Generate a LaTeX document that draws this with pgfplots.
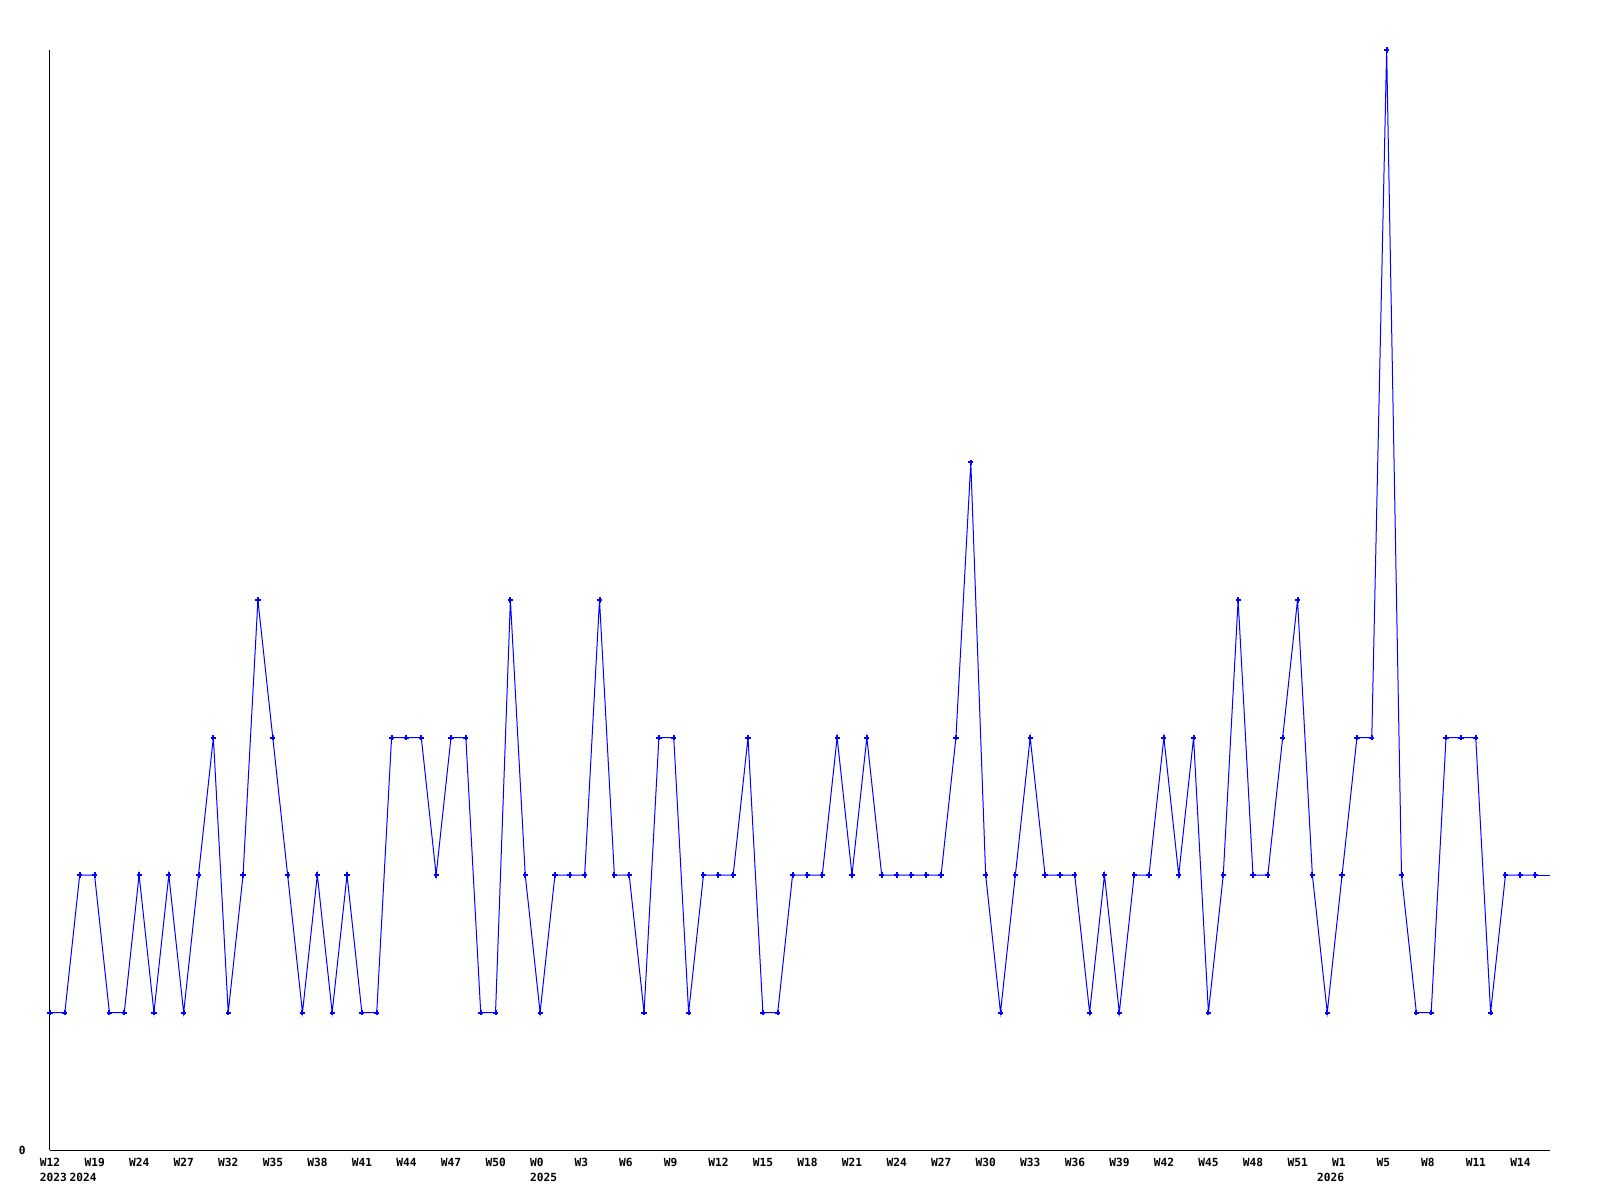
\documentclass[border=0pt]{standalone}
\usepackage{fontspec}
\setmonofont{DejaVu Sans Mono}
\usepackage{pgfplots}
\pgfplotsset{compat=1.18}
\definecolor{lineblue}{RGB}{0,0,255}
\begin{document}
\begin{tikzpicture}
\useasboundingbox (-25pt,-25pt) rectangle (775pt,575pt);
\begin{axis}[
  at={(0,0)}, anchor=south west,
  scale only axis,
  width=750pt, height=550pt,
  xmin=0, xmax=101, ymin=0, ymax=8,
  axis x line=bottom, axis y line=left,
  axis line style={-, black, line width=0.5pt},
  major tick length=0pt,
  xtick={0,3,...,99},
  xticklabels={W12,W19,W24,W27,W32,W35,W38,W41,W44,W47,W50,W0,W3,W6,W9,W12,W15,W18,W21,W24,W27,W30,W33,W36,W39,W42,W45,W48,W51,W1,W5,W8,W11,W14},
  extra x ticks={0,2,33,86},
  extra x tick labels={2023,2024,2025,2026},
  extra x tick style={major tick length=0pt, xticklabel style={yshift=-7.6pt}},
  xticklabel style={font=\ttfamily\bfseries\fontsize{5.6}{7}\selectfont, inner sep=0pt, anchor=north west, xshift=-5.2pt, yshift=-4pt},
  ytick={0}, yticklabels={0},
  yticklabel style={font=\ttfamily\bfseries\fontsize{5.6}{7}\selectfont, inner sep=0pt, anchor=east, xshift=-12pt},
  clip=false,
]
\addplot[lineblue, line width=0.5pt, mark=+, mark size=1.3pt, mark options={line width=1pt}] coordinates {
(0,1)(1,1)(2,2)(3,2)(4,1)(5,1)(6,2)(7,1)(8,2)(9,1)
(10,2)(11,3)(12,1)(13,2)(14,4)(15,3)(16,2)(17,1)(18,2)(19,1)
(20,2)(21,1)(22,1)(23,3)(24,3)(25,3)(26,2)(27,3)(28,3)(29,1)
(30,1)(31,4)(32,2)(33,1)(34,2)(35,2)(36,2)(37,4)(38,2)(39,2)
(40,1)(41,3)(42,3)(43,1)(44,2)(45,2)(46,2)(47,3)(48,1)(49,1)
(50,2)(51,2)(52,2)(53,3)(54,2)(55,3)(56,2)(57,2)(58,2)(59,2)
(60,2)(61,3)(62,5)(63,2)(64,1)(65,2)(66,3)(67,2)(68,2)(69,2)
(70,1)(71,2)(72,1)(73,2)(74,2)(75,3)(76,2)(77,3)(78,1)(79,2)
(80,4)(81,2)(82,2)(83,3)(84,4)(85,2)(86,1)(87,2)(88,3)(89,3)
(90,8)(91,2)(92,1)(93,1)(94,3)(95,3)(96,3)(97,1)(98,2)(99,2)
(100,2)
};
\addplot[lineblue, line width=0.5pt, no marks] coordinates {(100,2)(101,2)};
\end{axis}
\end{tikzpicture}
\end{document}
